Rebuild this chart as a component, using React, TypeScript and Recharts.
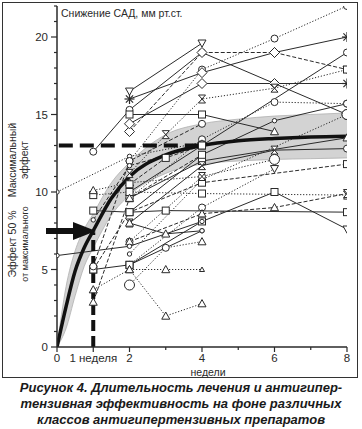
import React from 'react';
import {
  ComposedChart,
  Line,
  Area,
  XAxis,
  YAxis,
  ReferenceLine,
} from 'recharts';

const _ = null;

// weeks at which individual studies report values
const WEEKS = [0, 1, 2, 3, 4, 6, 8];

// mean curve and its band
const CURVE_X = [0, 0.25, 0.5, 0.75, 1, 1.5, 2, 3, 4, 5, 6, 7, 8];
const MEAN = [0, 2.6, 4.9, 6.4, 7.5, 9.6, 11.0, 12.4, 13.0, 13.3, 13.45, 13.55, 13.6];
const BAND_LO = [0, 1.2, 3.3, 5.2, 6.4, 8.5, 9.8, 11.2, 11.8, 12.0, 12.1, 12.15, 12.2];
const BAND_HI = [0, 3.9, 6.2, 7.6, 8.6, 10.6, 11.9, 13.7, 14.4, 14.7, 14.9, 15.0, 15.1];

// individual studies (values at WEEKS)
const sA = [_, _, 12.0, _, 17.9, 19.9, 22.0];
const sB = [_, _, 16.0, _, 17.7, 19.0, 20.0];
const sC = [_, _, 16.5, _, 19.6, _, _];
const sD = [_, 12.6, 15.3, _, 19.0, _, 15.0];
const sE = [_, _, 13.9, _, 19.0, 19.0, 17.9];
const sF = [_, _, 14.4, _, 17.0, 17.0, 17.0];
const sG = [_, _, 15.0, _, 15.0, 13.9, _];
const sH = [_, _, 11.2, 13.7, 16.0, 16.7, 17.9];
const sI = [_, _, 9.6, _, 13.4, 15.8, 15.7];
const sJ = [_, _, 10.0, _, _, _, 19.0];
const sL = [_, _, 8.7, _, 12.4, 14.6, 15.7];
const sM = [_, _, 6.0, _, 10.8, _, 15.0];
const sO = [_, _, 9.6, _, 12.0, _, 13.5];
const sP = [_, _, 8.0, _, 11.7, 12.7, 12.8];
const sQ = [_, 5.0, 8.7, _, 10.6, _, 11.8];
const sR = [_, _, 6.8, _, 11.0, 12.1, _];
const sS = [_, _, 5.3, _, 9.0, 11.5, _];
const sT = [_, 9.8, 10.0, _, 9.9, _, 9.8];
const sU = [_, _, 6.8, _, 8.6, 9.0, 9.9];
const sV = [_, 8.8, 8.7, 8.8, _, _, 8.7];
const sW = [_, _, 5.3, _, 8.1, 10.0, 7.6];
const sX = [_, 5.0, 5.3, _, 7.5, _, _];
const sY = [5.9, _, 6.5, _, 8.1, _, _];
const sZ = [10.0, _, 12.3, _, 13.2, _, _];
const sAA = [_, 3.7, 5.0, 5.0, 5.0, _, _];
const sAB = [_, _, 5.0, 2.0, 2.8, _, _];
const sAC = [_, _, 4.0, 6.4, 6.8, _, _];
const sAE = [_, 2.9, 9.6, _, 12.4, _, _];
const sAF = [_, 10.1, 10.6, _, 11.0, _, _];
const sAH = [_, _, 10.5, 12.2, 13.0, _, _];
const sAI = [_, 5.2, 12.0, _, 14.4, _, _];
const sAJ = [_, _, 8.0, 7.3, 7.5, _, _];
const sAK = [_, 8.2, 11.7, _, 13.0, _, _];

const Y_TICKS = Array.from({ length: 23 }, (_v, i) => i);
const X_TICKS = [0, 1, 2, 3, 4, 5, 6, 7, 8];

const SOLID = undefined;
const DASH = '4 2';
const DOT = '1.2 1.8';

const SERIES = [
  { key: 'sA', v: sA, m: 'circle', d: DOT },
  { key: 'sB', v: sB, m: 'diamond', d: SOLID, last: 'asterisk', first: 'asterisk' },
  { key: 'sC', v: sC, m: 'invtri', d: SOLID },
  { key: 'sD', v: sD, m: 'circle', d: SOLID, last: 'bigcircle' },
  { key: 'sE', v: sE, m: 'diamond', d: DASH, last: 'invtri' },
  { key: 'sF', v: sF, m: 'diamond', d: SOLID, last: 'asterisk' },
  { key: 'sG', v: sG, m: 'square', d: SOLID, last: 'triangle' },
  { key: 'sH', v: sH, m: 'hourglass', d: DOT, last: 'square' },
  { key: 'sI', v: sI, m: 'circle', d: DOT },
  { key: 'sJ', v: sJ, m: 'circle', d: SOLID },
  { key: 'sL', v: sL, m: 'small', d: SOLID, last: 'circle' },
  { key: 'sM', v: sM, m: 'small', d: DOT, last: 'bigcircle' },
  { key: 'sO', v: sO, m: 'square', d: SOLID, last: 'triangle' },
  { key: 'sP', v: sP, m: 'hourglass', d: SOLID, last: 'circle' },
  { key: 'sQ', v: sQ, m: 'square', d: DASH },
  { key: 'sR', v: sR, m: 'circle', d: DOT, last: 'bigcircle' },
  { key: 'sS', v: sS, m: 'circle', d: DOT, last: 'invtri' },
  { key: 'sT', v: sT, m: 'square', d: DOT, last: 'hourglass' },
  { key: 'sU', v: sU, m: 'triangle', d: DASH, last: 'hourglass' },
  { key: 'sV', v: sV, m: 'square', d: SOLID },
  { key: 'sW', v: sW, m: 'square', d: SOLID, last: 'invtri' },
  { key: 'sX', v: sX, m: 'square', d: SOLID, last: 'small' },
  { key: 'sY', v: sY, m: 'small', d: SOLID },
  { key: 'sZ', v: sZ, m: 'small', d: DOT },
  { key: 'sAA', v: sAA, m: 'triangle', d: DOT, last: 'smalltri' },
  { key: 'sAB', v: sAB, m: 'triangle', d: DOT },
  { key: 'sAC', v: sAC, m: 'circle', d: DOT, first: 'bigcircle', last: 'triangle' },
  { key: 'sAE', v: sAE, m: 'triangle', d: DASH, last: 'square' },
  { key: 'sAF', v: sAF, m: 'triangle', d: DOT, last: 'hourglass' },
  { key: 'sAH', v: sAH, m: 'square', d: DASH, last: 'square' },
  { key: 'sAI', v: sAI, m: 'circle', d: DASH },
  { key: 'sAJ', v: sAJ, m: 'triangle', d: SOLID, last: 'small' },
  { key: 'sAK', v: sAK, m: 'small', d: DASH, last: 'square' },
];

const data = CURVE_X.map((x, i) => {
  const row: any = { x, mean: MEAN[i], band: [BAND_LO[i], BAND_HI[i]] };
  const w = WEEKS.indexOf(x);
  SERIES.forEach((s) => {
    row[s.key] = w >= 0 ? s.v[w] : null;
  });
  return row;
});

const INK = '#2a2a2a';

function Marker({ kind, cx, cy }: { kind: string; cx: number; cy: number }) {
  const p = { fill: '#fff', stroke: INK, strokeWidth: 1 };
  let r = 3.5;
  switch (kind) {
    case 'small':
      return <circle cx={cx} cy={cy} r={2.2} {...p} />;
    case 'bigcircle':
      return <circle cx={cx} cy={cy} r={5} {...p} />;
    case 'circle':
      return <circle cx={cx} cy={cy} r={r} {...p} />;
    case 'square':
      return <rect x={cx - r} y={cy - r} width={2 * r} height={2 * r} {...p} />;
    case 'triangle':
      return <polygon points={`${cx - 4},${cy + 3.2} ${cx + 4},${cy + 3.2} ${cx},${cy - 4}`} {...p} />;
    case 'smalltri':
      return <polygon points={`${cx - 2.5},${cy + 2} ${cx + 2.5},${cy + 2} ${cx},${cy - 2.5}`} {...p} />;
    case 'invtri':
      return <polygon points={`${cx - 4},${cy - 3.2} ${cx + 4},${cy - 3.2} ${cx},${cy + 4}`} {...p} />;
    case 'diamond':
      return <polygon points={`${cx},${cy - 5} ${cx + 5},${cy} ${cx},${cy + 5} ${cx - 5},${cy}`} {...p} />;
    case 'hourglass':
      return (
        <polygon
          points={`${cx - 3.5},${cy - 4} ${cx + 3.5},${cy - 4} ${cx - 3.5},${cy + 4} ${cx + 3.5},${cy + 4}`}
          {...p}
        />
      );
    case 'asterisk':
      return (
        <g stroke={INK} strokeWidth={1.2}>
          <line x1={cx - 5} y1={cy} x2={cx + 5} y2={cy} />
          <line x1={cx} y1={cy - 5} x2={cx} y2={cy + 5} />
          <line x1={cx - 3.6} y1={cy - 3.6} x2={cx + 3.6} y2={cy + 3.6} />
          <line x1={cx - 3.6} y1={cy + 3.6} x2={cx + 3.6} y2={cy - 3.6} />
        </g>
      );
    default:
      return null;
  }
}

function makeDot(s: any) {
  const present = WEEKS.filter((_w, i) => s.v[i] != null);
  const firstW = present[0];
  const lastW = present[present.length - 1];
  return (props: any) => {
    const { cx, cy, payload, value, index } = props;
    if (value == null || cx == null || cy == null) return <g key={`${s.key}-${index}`} />;
    let kind = s.m;
    if (payload.x === lastW && s.last) kind = s.last;
    if (payload.x === firstW && s.first) kind = s.first;
    return (
      <g key={`${s.key}-${index}`}>
        <Marker kind={kind} cx={cx} cy={cy} />
      </g>
    );
  };
}

const fontStack = '"Liberation Sans", Arial, "DejaVu Sans", sans-serif';

function YTick(props: any) {
  const { x, y, payload } = props;
  const major = payload.value % 5 === 0;
  return (
    <g>
      <line x1={x - (major ? 6 : 3)} y1={y} x2={x} y2={y} stroke={INK} strokeWidth={1.2} />
      {major && (
        <text x={x - 9} y={y + 4} textAnchor="end" fontSize={11.5} fill={INK} fontFamily={fontStack}>
          {payload.value}
        </text>
      )}
    </g>
  );
}

function XTick(props: any) {
  const { x, y, payload } = props;
  const v = payload.value;
  const major = v % 2 === 0 || v === 1;
  const label = v % 2 === 0 ? String(v) : v === 1 ? '1 неделя' : '';
  return (
    <g>
      <line x1={x} y1={y} x2={x} y2={y + (major ? 5 : 3)} stroke={INK} strokeWidth={1.2} />
      {label && (
        <text x={x} y={y + 15} textAnchor="middle" fontSize={11.5} fill={INK} fontFamily={fontStack}>
          {label}
        </text>
      )}
    </g>
  );
}

export default function App() {
  return (
    <div
      style={{
        position: 'absolute',
        left: 0,
        top: 0,
        width: 362,
        height: 429,
        background: '#fff',
        fontFamily: fontStack,
        overflow: 'hidden',
      }}
    >
      <div
        style={{
          position: 'absolute',
          left: 2,
          top: 2,
          width: 356,
          height: 376,
          border: '1.5px solid #333',
          boxSizing: 'border-box',
        }}
      />
      <div style={{ position: 'absolute', left: 0, top: 0 }}>
        <ComposedChart
          width={362}
          height={380}
          data={data}
          margin={{ top: 6, right: 15, bottom: 0, left: 17 }}
        >
          <XAxis
            dataKey="x"
            type="number"
            domain={[0, 8]}
            ticks={X_TICKS}
            interval={0}
            tickSize={0}
            tickMargin={0}
            tickLine={false}
            tick={<XTick />}
            axisLine={{ stroke: INK, strokeWidth: 1.5 }}
            height={33}
            allowDataOverflow
          />
          <YAxis
            type="number"
            domain={[0, 22]}
            ticks={Y_TICKS}
            interval={0}
            tickSize={0}
            tickMargin={0}
            tickLine={false}
            tick={<YTick />}
            axisLine={{ stroke: INK, strokeWidth: 1.5 }}
            width={40}
            allowDataOverflow
          />
          <Area
            dataKey="band"
            type="monotone"
            fill="#d3d3d3"
            fillOpacity={1}
            stroke="#b0b0b0"
            strokeWidth={0.8}
            isAnimationActive={false}
            connectNulls
            dot={false}
            activeDot={false}
          />
          {SERIES.map((s) => (
            <Line
              key={s.key}
              dataKey={s.key}
              type="linear"
              stroke={INK}
              strokeWidth={1}
              strokeDasharray={s.d}
              connectNulls
              isAnimationActive={false}
              dot={makeDot(s)}
              activeDot={false}
            />
          ))}
          <Line
            dataKey="mean"
            type="monotone"
            stroke="#111"
            strokeWidth={3.5}
            dot={false}
            activeDot={false}
            isAnimationActive={false}
          />
          <ReferenceLine
            segment={[
              { x: 0.05, y: 13 },
              { x: 4, y: 13 },
            ]}
            stroke="#111"
            strokeWidth={4}
            strokeDasharray="14 7"
          />
          <ReferenceLine
            segment={[
              { x: 1, y: 0 },
              { x: 1, y: 7.4 },
            ]}
            stroke="#111"
            strokeWidth={4}
            strokeDasharray="11 5"
          />
        </ComposedChart>
      </div>
      <svg
        width={362}
        height={380}
        style={{ position: 'absolute', left: 0, top: 0, pointerEvents: 'none' }}
      >
        <rect x={46} y={228} width={29} height={6} fill="#111" />
        <polygon points="73,222 96,231 73,240" fill="#111" />
        <text x={61} y={17} fontSize={10.5} fill={INK} fontFamily={fontStack}>
          Снижение САД, мм рт.ст.
        </text>
        <g fontFamily={fontStack} fill={INK}>
          <text transform="translate(16,160) rotate(-90)" textAnchor="middle" fontSize={10.5}>
            Максимальный
          </text>
          <text transform="translate(28,160) rotate(-90)" textAnchor="middle" fontSize={10.5}>
            эффект
          </text>
          <text transform="translate(16,244) rotate(-90)" textAnchor="middle" fontSize={10.5}>
            Эффект 50 %
          </text>
          <text transform="translate(28,244) rotate(-90)" textAnchor="middle" fontSize={9}>
            от максимального
          </text>
        </g>
        <text x={208} y={376} textAnchor="middle" fontSize={10.5} fill={INK} fontFamily={fontStack}>
          недели
        </text>
      </svg>
      <div
        style={{
          position: 'absolute',
          left: 0,
          top: 380,
          width: 362,
          textAlign: 'center',
          fontWeight: 'bold',
          fontStyle: 'italic',
          fontSize: 13,
          lineHeight: '16px',
          color: '#1a1a1a',
        }}
      >
        Рисунок 4. Длительность лечения и антигипер-
        <br />
        тензивная эффективность на фоне различных
        <br />
        классов антигипертензивных препаратов
      </div>
    </div>
  );
}
